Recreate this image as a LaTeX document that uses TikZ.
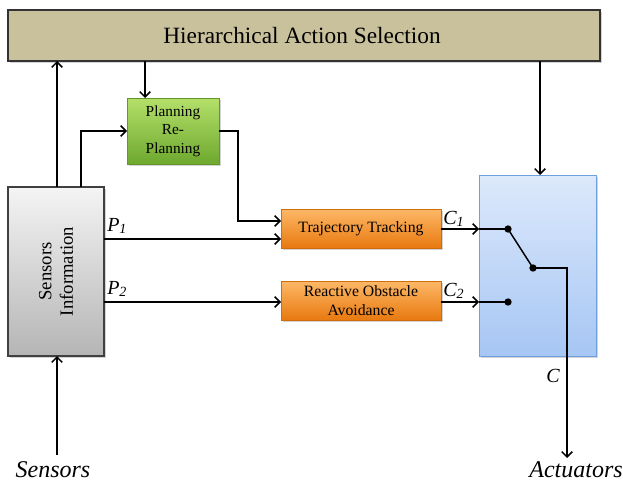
\documentclass[tikz,border=0pt]{standalone}
\usepackage{fontspec}
\setmainfont{Liberation Serif}
\usetikzlibrary{arrows.meta,shadows}
\definecolor{tan}{HTML}{C9C19B}
\definecolor{grtop}{HTML}{B4E06A}
\definecolor{grbot}{HTML}{6EA82E}
\definecolor{ortop}{HTML}{FDB867}
\definecolor{orbot}{HTML}{E8790F}
\definecolor{bltop}{HTML}{DDE9FB}
\definecolor{blbot}{HTML}{A6C6F4}
\definecolor{blline}{HTML}{6F9FDC}
\definecolor{gytop}{HTML}{F4F4F4}
\definecolor{gybot}{HTML}{B5B5B5}
\tikzset{
  conn/.style={line width=1.1pt,-{Straight Barb[length=4pt,width=8pt,line width=1.1pt]}},
  wire/.style={line width=1.1pt},
  boxshadow/.style={drop shadow={shadow xshift=1.2pt,shadow yshift=-1.2pt,opacity=0.35}},
  ablock/.style={boxshadow,draw=orbot!90!black,line width=0.6pt,top color=ortop,bottom color=orbot,
     align=center,font=\fontsize{11.8}{14}\selectfont,inner sep=0pt},
  dotnode/.style={circle,fill=black,inner sep=0pt,minimum size=5.5pt},
  lab/.style={font=\fontsize{15}{17}\selectfont\itshape,inner sep=0pt}
}
\begin{document}
\begin{tikzpicture}[x=0.75pt,y=-0.75pt]
\useasboundingbox (0,0) rectangle (623,485);
% top box
\node[draw=black!80,line width=1pt,fill=tan,boxshadow,minimum width=592*0.75pt,minimum height=51*0.75pt,inner sep=0pt] (has) at (304,35.5) {};
\node[font=\fontsize{17.5}{19}\selectfont,anchor=base] (hastxt) at (302,44) {Hierarchical Action Selection};
% sensors information
\node[draw=black!75,line width=0.8pt,top color=gytop,bottom color=gybot,boxshadow,minimum width=96*0.75pt,minimum height=169*0.75pt,inner sep=0pt] (si) at (56,271.5) {};
\node[rotate=90,align=center,font=\fontsize{14}{16}\selectfont] (sitxt) at (si.center) {Sensors\\Information};
% planning
\node[draw=grbot!90!black,line width=0.6pt,top color=grtop,bottom color=grbot,boxshadow,minimum width=92*0.75pt,minimum height=66*0.75pt,inner sep=0pt,align=center,
  font=\fontsize{11.5}{14}\selectfont] (pl) at (173,131) {Planning\\Re-\\Planning};
% trajectory tracking
\node[ablock,minimum width=160*0.75pt,minimum height=39*0.75pt] (tt) at (361,228.5) {Trajectory Tracking};
\node[ablock,minimum width=160*0.75pt,minimum height=39*0.75pt] (roa) at (361,300.5) {Reactive Obstacle\\Avoidance};
% blue switch box
\node[draw=blline,line width=0.7pt,top color=bltop,bottom color=blbot,boxshadow,minimum width=117*0.75pt,minimum height=181*0.75pt,inner sep=0pt] (sw) at (537.5,265.5) {};
% coordinates
\coordinate (siTopL) at (57,187);
\coordinate (hasB1) at (57,61);
\coordinate (hasB2) at (145,61);
\coordinate (plT) at (145,98);
\coordinate (siTopR) at (81,187);
\coordinate (plL) at (127,131);
\coordinate (plR) at (219,131);
\coordinate (ttL1) at (281,221);
\coordinate (siP1) at (104,239);
\coordinate (ttL2) at (281,239);
\coordinate (siP2) at (104,302);
\coordinate (roaL) at (281,302);
\coordinate (ttR) at (441,229);
\coordinate (swL1) at (479,229);
\coordinate (roaR) at (441,302);
\coordinate (swL2) at (479,302);
\coordinate (hasB3) at (540,61);
\coordinate (swT) at (540,175);
\coordinate (sensB) at (57,455);
\coordinate (siB) at (57,356);
\coordinate (act) at (567,458);
\node[dotnode] (d1) at (508,229) {};
\node[dotnode] (d2) at (508,302) {};
\node[dotnode] (d3) at (533,268) {};
% connectors
\draw[conn] (siTopL) -- (hasB1);
\draw[conn] (hasB2) -- (plT);
\draw[conn] (siTopR) |- (plL);
\draw[conn] (plR) -- (238,131) |- (ttL1);
\draw[conn] (siP1) -- (ttL2);
\draw[conn] (siP2) -- (roaL);
\draw[conn] (ttR) -- (swL1);
\draw[wire] (swL1) -- (d1.center);
\draw[conn] (roaR) -- (swL2);
\draw[wire] (swL2) -- (d2.center);
\draw[wire] (d1.center) -- (d3.center);
\draw[conn] (d3.center) -| (act);
\draw[conn] (hasB3) -- (swT);
\draw[conn] (sensB) -- (siB);
% labels
\node[lab,anchor=base west] (p1) at (107,231) {P\textsubscript{1}};
\node[lab,anchor=base west] (p2) at (107,294) {P\textsubscript{2}};
\node[lab,anchor=base west] (c1) at (443,224) {C\textsubscript{1}};
\node[lab,anchor=base west] (c2) at (443,296) {C\textsubscript{2}};
\node[lab,anchor=base west] (cl) at (546,382) {C};
\node[font=\fontsize{18}{20}\selectfont\itshape,anchor=base] (sens) at (53,477) {Sensors};
\node[font=\fontsize{18}{20}\selectfont\itshape,anchor=base] (actl) at (576,477) {Actuators};
\end{tikzpicture}
\end{document}
